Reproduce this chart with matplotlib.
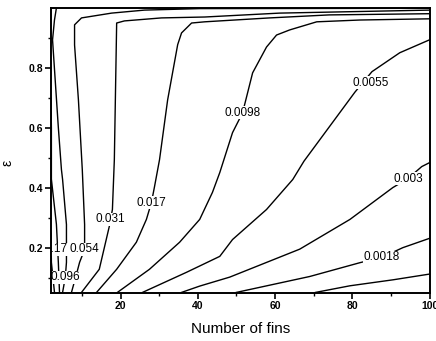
import matplotlib
matplotlib.use('Agg')
import matplotlib.pyplot as plt
from matplotlib.ticker import MultipleLocator, FixedLocator

plt.rcParams['font.family'] = ['Liberation Sans', 'DejaVu Sans']

# contour lines: (number of fins, epsilon)
n_030 = [2.0, 2.1, 2.9]
e_030 = [0.25, 0.153, 0.053]

n_170 = [2.0, 2.1, 2.1, 3.4, 3.9, 4.2]
e_170 = [0.70, 0.60, 0.43, 0.28, 0.153, 0.053]

n_096 = [3.4, 2.9, 2.4, 3.9, 4.7, 5.0, 6.0, 6.0, 5.7, 5.0]
e_096 = [1.0, 0.96, 0.894, 0.602, 0.462, 0.429, 0.279, 0.153, 0.103, 0.053]

n_054 = [7.3, 8.6, 9.4, 10.7, 10.7, 10.1, 9.1, 8.1, 8.1, 9.9, 17.7, 26.2, 40.5, 100]
e_054 = [0.053, 0.114, 0.153, 0.196, 0.279, 0.462, 0.694, 0.877, 0.944, 0.967, 0.983, 0.993, 0.998, 0.999]

n_031 = [9.9, 14.5, 17.1, 17.9, 18.4, 19.0, 21.0, 30.6, 41.8, 61.2, 100]
e_031 = [0.053, 0.13, 0.273, 0.329, 0.495, 0.95, 0.957, 0.967, 0.970, 0.983, 0.993]

n_017 = [13.8, 19.0, 24.1, 26.7, 28.0, 28.8, 30.1, 32.2, 34.8, 35.8, 38.4, 41.8, 58.6, 74, 100]
e_017 = [0.053, 0.13, 0.22, 0.296, 0.352, 0.405, 0.495, 0.694, 0.878, 0.917, 0.950, 0.954, 0.967, 0.977, 0.981]

n_0098 = [19.2, 27.5, 35.3, 40.5, 43.8, 45.7, 49.0, 51.6, 54.2, 57.8, 60.4, 63.8, 70.8, 82, 100]
e_0098 = [0.053, 0.13, 0.22, 0.296, 0.386, 0.452, 0.585, 0.651, 0.784, 0.87, 0.91, 0.927, 0.954, 0.96, 0.964]

n_0055 = [25.7, 37.1, 45.7, 49.0, 57.8, 64.6, 67.5, 80.7, 85.1, 92.3, 100]
e_0055 = [0.053, 0.12, 0.173, 0.229, 0.329, 0.429, 0.49, 0.72, 0.788, 0.851, 0.894]

n_003 = [35.8, 40.5, 48.3, 66.4, 79.4, 90.5, 94.4, 98.0, 100]
e_003 = [0.053, 0.074, 0.104, 0.197, 0.296, 0.402, 0.432, 0.472, 0.485]

n_0018 = [50.0, 69.0, 82.0, 87.7, 93.1, 100]
e_0018 = [0.053, 0.106, 0.152, 0.17, 0.202, 0.233]

n_001 = [70.5, 79.4, 90.6, 100]
e_001 = [0.053, 0.075, 0.095, 0.114]

# inline labels: text and where it sits
label_text = ['0.17', '0.054', '0.096', '0.031', '0.017', '0.0098', '0.0055', '0.003', '0.0018']
label_n = [3.3, 10.7, 5.8, 17.4, 28.0, 51.6, 84.8, 94.4, 87.7]
label_e = [0.196, 0.196, 0.103, 0.296, 0.352, 0.651, 0.751, 0.432, 0.17]

fig = plt.figure(figsize=(4.36, 3.41), dpi=100)
ax = fig.add_axes([51 / 436, 1 - 293.3 / 341, (429.5 - 51) / 436, (293.3 - 8) / 341])

lines = [(n_030, e_030), (n_170, e_170), (n_096, e_096), (n_054, e_054),
         (n_031, e_031), (n_017, e_017), (n_0098, e_0098), (n_0055, e_0055),
         (n_003, e_003), (n_0018, e_0018), (n_001, e_001)]
for n, e in lines:
    ax.plot(n, e, color='black', lw=1.0, zorder=2)

for t, n, e in zip(label_text, label_n, label_e):
    ax.text(n, e, t, fontsize=8.5, ha='center', va='center', zorder=2.2, clip_on=True,
            bbox=dict(facecolor='white', edgecolor='none', pad=0.3))

ax.set_xlim(2, 100)
ax.set_ylim(0.05, 1.0)
ax.xaxis.set_major_locator(FixedLocator([20, 40, 60, 80, 100]))
ax.xaxis.set_minor_locator(MultipleLocator(10))
ax.yaxis.set_major_locator(FixedLocator([0.2, 0.4, 0.6, 0.8]))
ax.yaxis.set_minor_locator(FixedLocator([0.1, 0.3, 0.5, 0.7, 0.9]))
ax.tick_params(which='major', direction='out', length=4, width=1.2, pad=1.5)
ax.tick_params(which='minor', direction='out', length=2, width=1.0)
for lab in ax.get_xticklabels():
    lab.set_fontsize(7.5)
    lab.set_fontweight('bold')
for lab in ax.get_yticklabels():
    lab.set_fontsize(7.5)
    lab.set_fontweight('bold')
for s in ax.spines.values():
    s.set_linewidth(1.4)

fig.text(241 / 436, 1 - 329 / 341, 'Number of fins', fontsize=11, ha='center', va='center')
fig.text(7 / 436, 1 - 163 / 341, 'ε', fontsize=10, rotation=90, ha='center', va='center')

fig.savefig('out.png', dpi=100)
